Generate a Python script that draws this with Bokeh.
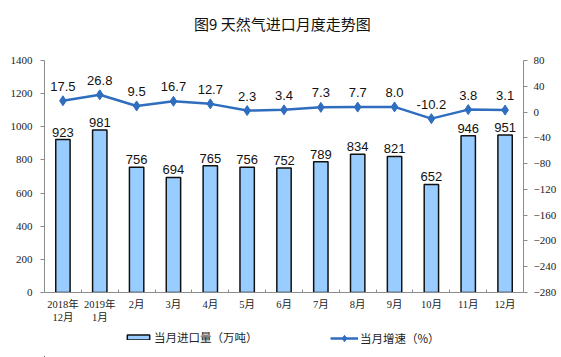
from bokeh.plotting import figure
from bokeh.layouts import column
from bokeh.models import (Range1d, LinearAxis, FixedTicker, Title, Legend, LegendItem, ColumnDataSource)
from bokeh.core.properties import value
from bokeh.embed import file_html
from bokeh.resources import INLINE

categories = ["2018年\n12月", "2019年\n1月", "2月", "3月", "4月", "5月", "6月",
              "7月", "8月", "9月", "10月", "11月", "12月"]
imports = [923, 981, 756, 694, 765, 756, 752, 789, 834, 821, 652, 946, 951]
growth = [17.5, 26.8, 9.5, 16.7, 12.7, 2.3, 3.4, 7.3, 7.7, 8.0, -10.2, 3.8, 3.1]
left_ticks = [0, 200, 400, 600, 800, 1000, 1200, 1400]
right_ticks = [-280, -240, -200, -160, -120, -80, -40, 0, 40, 80]
title_text = "图9  天然气进口月度走势图"
bar_name = "当月进口量（万吨）"
line_name = "当月增速（%）"

BAR_FILL = "#99CCFF"
BAR_LINE = "#111111"
LINE_COL = "#2F6DBF"

n = len(categories)
xc = [i + 0.5 for i in range(n)]

src = ColumnDataSource(dict(
    x=xc, imp=imports, gr=growth,
    imp_lbl=[str(v) for v in imports],
    gr_lbl=[f"{v:.1f}" for v in growth],
))

p = figure(width=561, height=326, output_backend="svg", toolbar_location=None,
           x_range=Range1d(0, n), y_range=Range1d(0, 1400),
           min_border_left=44, min_border_right=38, min_border_top=60, min_border_bottom=34,
           x_axis_location=None, y_axis_location=None)
p.extra_y_ranges = {"pct": Range1d(-280, 80)}
p.outline_line_color = None
p.xgrid.visible = False
p.ygrid.visible = False
p.background_fill_color = "white"
p.border_fill_color = "white"

axis_color = "#8C8C8C"
serif = "'Liberation Serif', 'Noto Sans CJK SC'"

# bottom axis
xaxis = LinearAxis(ticker=FixedTicker(ticks=xc, minor_ticks=list(range(n + 1))))
xaxis.major_label_overrides = {x: c for x, c in zip(xc, categories)}
xaxis.major_tick_in = 0
xaxis.major_tick_out = 0
xaxis.minor_tick_in = 3
xaxis.minor_tick_out = 0
xaxis.axis_line_color = axis_color
xaxis.minor_tick_line_color = axis_color
xaxis.major_label_text_font = serif
xaxis.major_label_text_font_size = "10.5px"
xaxis.major_label_text_color = "#222222"
xaxis.major_label_standoff = 6
xaxis.major_label_text_line_height = 1.25
p.add_layout(xaxis, "below")

# left axis
yaxis = LinearAxis(ticker=FixedTicker(ticks=left_ticks))
yaxis.axis_line_color = axis_color
yaxis.major_tick_line_color = axis_color
yaxis.major_tick_in = 0
yaxis.major_tick_out = 4
yaxis.minor_tick_line_color = None
yaxis.major_label_text_font = serif
yaxis.major_label_text_font_size = "11px"
yaxis.major_label_text_color = "#222222"
yaxis.major_label_standoff = 8
p.add_layout(yaxis, "left")

# right axis
raxis = LinearAxis(y_range_name="pct", ticker=FixedTicker(ticks=right_ticks))
raxis.axis_line_color = axis_color
raxis.major_tick_line_color = axis_color
raxis.major_tick_in = 0
raxis.major_tick_out = 4
raxis.minor_tick_line_color = None
raxis.major_label_text_font = serif
raxis.major_label_text_font_size = "11px"
raxis.major_label_text_color = "#222222"
raxis.major_label_standoff = 6
p.add_layout(raxis, "right")

p.vbar(x="x", top="imp", width=0.39, bottom=0, source=src,
       fill_color=BAR_FILL, line_color=BAR_LINE, line_width=1.5)
p.line(x="x", y="gr", source=src, y_range_name="pct",
       line_color=LINE_COL, line_width=2.5)
p.scatter(x="x", y="gr", source=src, y_range_name="pct", marker="diamond",
          size=10, fill_color=LINE_COL, line_color=LINE_COL)

p.text(x="x", y="imp", text="imp_lbl", source=src, text_align="center",
       text_baseline="bottom", y_offset=-3, text_font=value("Liberation Sans"),
       text_font_size="13px", text_color="#111111")
p.text(x="x", y="gr", text="gr_lbl", source=src, y_range_name="pct",
       text_align="center", text_baseline="bottom", y_offset=-10,
       text_font=value("Liberation Sans"), text_font_size="13px", text_color="#111111")

# spacer title (pushes frame down) then real title above it
p.add_layout(Title(text=" ", text_font_size="22px", standoff=0), "above")
p.add_layout(Title(text=title_text, align="center", text_font="Noto Sans CJK SC",
                   text_font_size="15px", text_font_style="normal", text_color="#111111",
                   offset=-4, standoff=0), "above")

# legend strip: renderers use the real data, but the view range keeps them out of sight
lf = figure(width=561, height=31, output_backend="svg", toolbar_location=None,
            x_range=Range1d(100, 200), y_range=Range1d(1000, 2000),
            min_border_left=0, min_border_right=0, min_border_top=0, min_border_bottom=0,
            x_axis_location=None, y_axis_location=None)
lf.grid.visible = False
lf.outline_line_color = None
lf.background_fill_color = "white"
lf.border_fill_color = "white"
lb = lf.vbar(x="x", top="imp", width=0.39, source=src,
             fill_color=BAR_FILL, line_color=BAR_LINE, line_width=1.5)
ll = lf.line(x="x", y="gr", source=src, line_color=LINE_COL, line_width=2.5)
ls = lf.scatter(x="x", y="gr", source=src, marker="diamond", size=10,
                fill_color=LINE_COL, line_color=LINE_COL)

# frames of the column are aligned (left edge at x=44), so offsets are from there
leg1 = Legend(items=[LegendItem(label=bar_name, renderers=[lb])],
              location=(80, 12), glyph_width=28, glyph_height=6, label_height=14,
              label_standoff=2, label_text_font="Noto Sans CJK SC",
              label_text_font_size="11.5px", label_text_color="#222222",
              border_line_color=None, background_fill_alpha=0, padding=0, margin=0)
leg2 = Legend(items=[LegendItem(label=line_name, renderers=[ll, ls])],
              location=(286, 11), glyph_width=28, glyph_height=16, label_height=16,
              label_standoff=2, label_text_font="Noto Sans CJK SC",
              label_text_font_size="11.5px", label_text_color="#222222",
              border_line_color=None, background_fill_alpha=0, padding=0, margin=0)
lf.add_layout(leg1, "center")
lf.add_layout(leg2, "center")

layout = column(p, lf, spacing=0)
open("out.html", "w").write(file_html(layout, INLINE))
